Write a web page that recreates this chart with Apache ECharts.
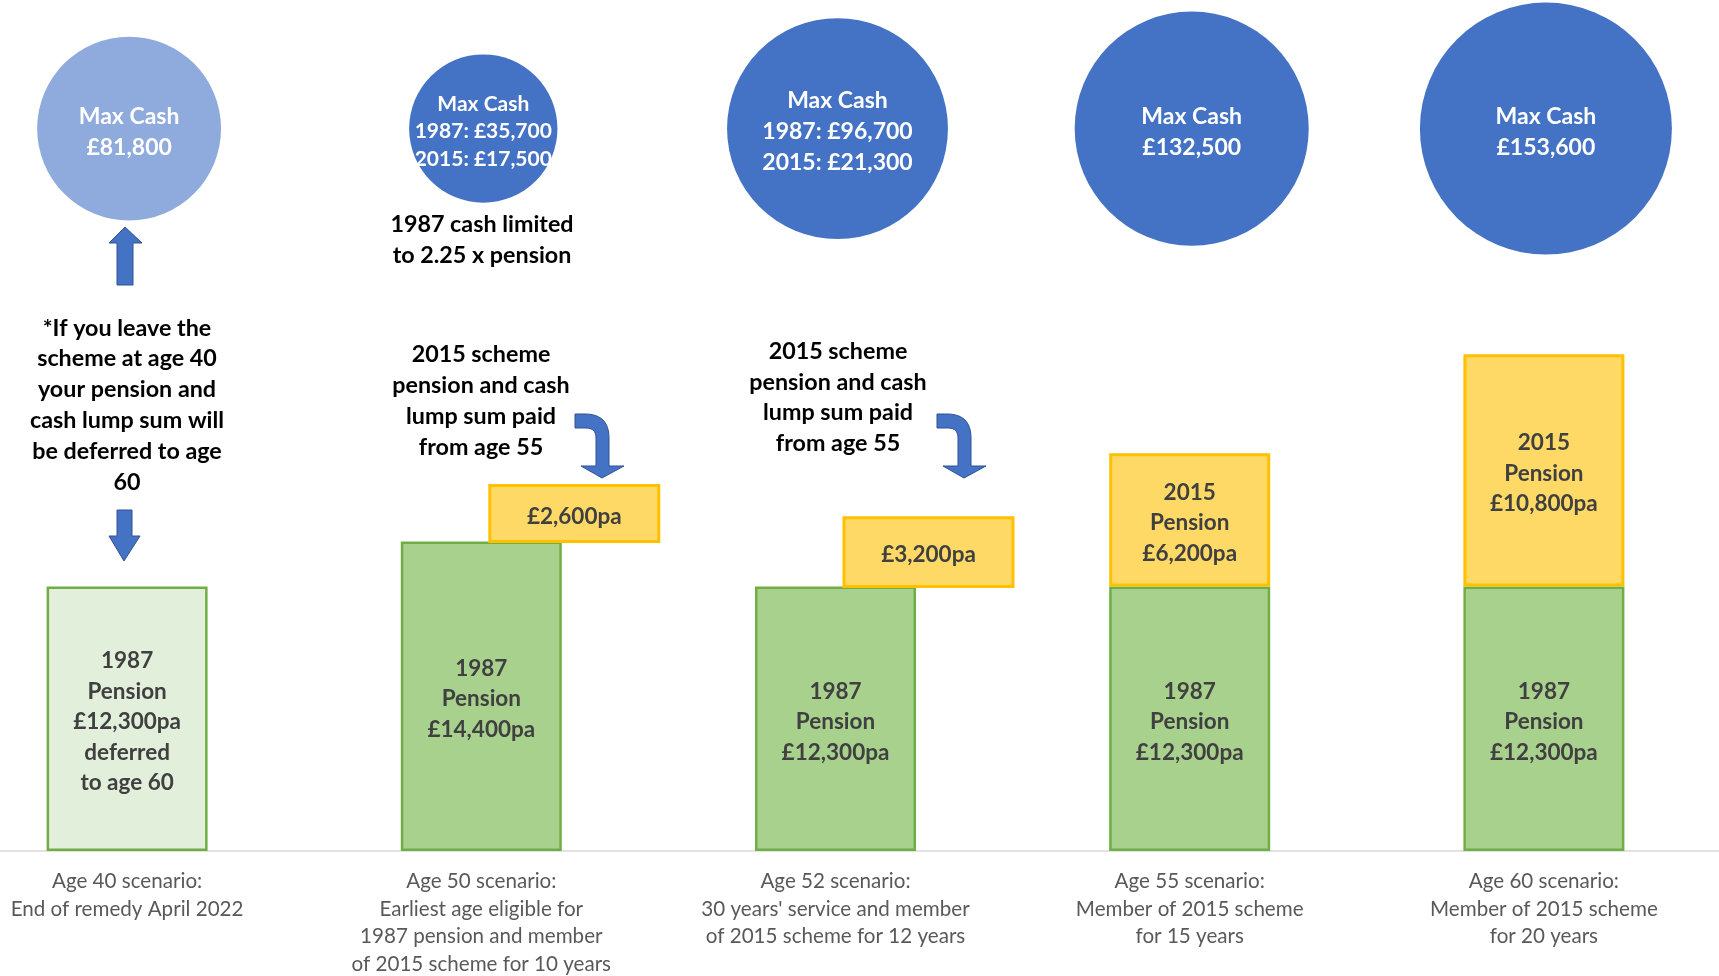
<!DOCTYPE html>
<html>
<head>
<meta charset="utf-8">
<script src="https://cdn.jsdelivr.net/npm/echarts@6/dist/echarts.min.js"></script>
<style>
  html, body { margin: 0; padding: 0; background: #fff; }
  #chart { width: 1719px; height: 976px; }
</style>
</head>
<body>
<div id="chart"></div>
<script>
// scenarios along the bottom
const scenarios = [
  'Age 40 scenario:\nEnd of remedy April 2022',
  'Age 50 scenario:\nEarliest age eligible for\n1987 pension and member\nof 2015 scheme for 10 years',
  "Age 52 scenario:\n30 years' service and member\nof 2015 scheme for 12 years",
  'Age 55 scenario:\nMember of 2015 scheme\nfor 15 years',
  'Age 60 scenario:\nMember of 2015 scheme\nfor 20 years'
];
// yearly pensions, £
const pension1987 = [12300, 14400, 12300, 12300, 12300];
const pension2015 = [null, 2600, 3200, 6200, 10800];
// 2015 part paid from age 55 (drawn beside the 1987 bar)
const paidFrom55 = [false, true, true, false, false];
// first scenario is a deferred pension
const deferred = [true, false, false, false, false];
// max cash lump sum, £ (single figure or split by scheme)
const maxCash = [81800, null, null, 132500, 153600];
const maxCash1987 = [null, 35700, 96700, null, null];
const maxCash2015 = [null, 17500, 21300, null, null];

const FONT = 'Lato';
const BLUE = '#4472C4';
const money = v => '£' + v.toLocaleString('en-GB');
const bubbleLevel = 33600;   // row the cash bubbles sit on
const bubbleScale = 0.643;   // diameter per sqrt(£), area ~ cash

const chart = echarts.init(document.getElementById('chart'));

const greenData = pension1987.map((v, i) => {
  const item = { value: v };
  if (deferred[i]) item.itemStyle = { color: '#E2EFDA' };
  return item;
});
const yellowData = pension2015.map((v, i) => (v != null && !paidFrom55[i]) ? v : '-');
const sideData = [];
pension2015.forEach((v, i) => { if (v != null && paidFrom55[i]) sideData.push([i, pension1987[i], v]); });

const bubbleData = scenarios.map((s, i) => {
  const total = maxCash[i] != null ? maxCash[i] : maxCash1987[i] + maxCash2015[i];
  const text = maxCash[i] != null
    ? 'Max Cash\n' + money(maxCash[i])
    : 'Max Cash\n1987: ' + money(maxCash1987[i]) + '\n2015: ' + money(maxCash2015[i]);
  const small = total < 60000;
  return {
    value: [i, bubbleLevel, total],
    itemStyle: { color: i === 0 ? '#8FAADC' : BLUE, opacity: 1 },
    label: { formatter: text, fontSize: small ? 21 : 23, lineHeight: small ? 27.5 : 31 }
  };
});

// bent "turn down" arrow as a polygon (quadratic corners sampled)
function quad(p0, c, p1, n) {
  const pts = [];
  for (let k = 1; k <= n; k++) {
    const t = k / n;
    pts.push([
      (1 - t) * (1 - t) * p0[0] + 2 * (1 - t) * t * c[0] + t * t * p1[0],
      (1 - t) * (1 - t) * p0[1] + 2 * (1 - t) * t * c[1] + t * t * p1[1]
    ]);
  }
  return pts;
}
function bentArrow(x0, y0) {
  let pts = [[0, 0], [10, 0]];
  pts = pts.concat(quad([10, 0], [34, 0], [34, 24], 12));
  pts = pts.concat([[34, 52], [49, 52], [27, 64], [6, 52], [21, 52], [21, 24]]);
  pts = pts.concat(quad([21, 24], [21, 14], [11, 14], 8));
  pts.push([0, 14]);
  return pts.map(p => [p[0] + x0, p[1] + y0]);
}
const arrowStyle = { fill: BLUE, stroke: '#2F528F', lineWidth: 1 };
const noteStyle = { font: 'bold 23.3px ' + FONT, fill: '#000', lineHeight: 30.8, align: 'center', verticalAlign: 'middle' };

chart.setOption({
  animation: false,
  backgroundColor: '#fff',
  grid: { left: -50, right: -2, top: 34, bottom: 125, outerBoundsMode: 'none', containLabel: false },
  xAxis: {
    type: 'category',
    data: scenarios,
    axisTick: { show: false },
    axisLine: { lineStyle: { color: '#D9D9D9', width: 1.5 } },
    axisLabel: {
      interval: 0, margin: 17, color: '#595959',
      fontFamily: FONT, fontSize: 20.6, lineHeight: 27.5
    }
  },
  yAxis: { type: 'value', min: 0, max: 38000, show: false, splitLine: { show: false } },
  series: [
    {
      name: '1987 pension',
      type: 'bar',
      stack: 'pension',
      barWidth: 161,
      data: greenData,
      itemStyle: { color: '#A9D18E', borderColor: '#70AD47', borderWidth: 2.5 },
      label: {
        show: true, position: 'inside', offset: [0, 3], color: '#404040',
        fontFamily: FONT, fontWeight: 'bold', fontSize: 22.5, lineHeight: 30.5,
        formatter: p => '1987\nPension\n' + money(p.value) + 'pa' + (deferred[p.dataIndex] ? '\ndeferred\nto age 60' : '')
      }
    },
    {
      name: '2015 pension',
      type: 'bar',
      stack: 'pension',
      barWidth: 161,
      data: yellowData,
      itemStyle: { color: '#FFD966', borderColor: '#FFC000', borderWidth: 3 },
      label: {
        show: true, position: 'inside', offset: [0, 3], color: '#404040',
        fontFamily: FONT, fontWeight: 'bold', fontSize: 22.5, lineHeight: 30.5,
        formatter: p => '2015\nPension\n' + money(p.value) + 'pa'
      }
    },
    {
      name: '2015 pension from 55',
      type: 'custom',
      data: sideData,
      encode: { x: 0, y: [1, 2] },
      z: 3,
      renderItem: function (params, api) {
        const i = api.value(0);
        const base = api.value(1);
        const v = api.value(2);
        const lo = api.coord([i, base]);
        const hi = api.coord([i, base + v]);
        const w = 169;
        return {
          type: 'rect',
          shape: { x: lo[0] + 93 - w / 2, y: hi[1], width: w, height: lo[1] - hi[1] },
          style: { fill: '#FFD966', stroke: '#FFC000', lineWidth: 3 },
          textContent: {
            style: { text: money(v) + 'pa', fill: '#404040', font: 'bold 22.5px ' + FONT }
          },
          textConfig: { position: 'inside', offset: [0, 3] }
        };
      }
    },
    {
      name: 'Max cash',
      type: 'scatter',
      data: bubbleData,
      symbolSize: v => bubbleScale * Math.sqrt(v[2]),
      symbolOffset: [2, 0],
      label: {
        show: true, position: 'inside', offset: [0, 3], color: '#fff',
        fontFamily: FONT, fontWeight: 'bold'
      }
    }
  ],
  graphic: [
    { type: 'text', x: 482, y: 240, style: Object.assign({ text: '1987 cash limited\nto 2.25 x pension' }, noteStyle) },
    { type: 'text', x: 127, y: 405, style: Object.assign({ text: '*If you leave the\nscheme at age 40\nyour pension and\ncash lump sum will\nbe deferred to age\n60' }, noteStyle) },
    { type: 'text', x: 481, y: 401, style: Object.assign({ text: '2015 scheme\npension and cash\nlump sum paid\nfrom age 55' }, noteStyle) },
    { type: 'text', x: 838, y: 397.5, style: Object.assign({ text: '2015 scheme\npension and cash\nlump sum paid\nfrom age 55' }, noteStyle) },
    { type: 'polygon', shape: { points: [[125, 227], [142, 243], [133, 243], [133, 285], [117, 285], [117, 243], [109, 243]] }, style: arrowStyle },
    { type: 'polygon', shape: { points: [[117, 510], [132, 510], [132, 536], [140, 536], [124, 561], [109, 536], [117, 536]] }, style: arrowStyle },
    { type: 'polygon', shape: { points: bentArrow(575, 414) }, style: arrowStyle },
    { type: 'polygon', shape: { points: bentArrow(937, 414) }, style: arrowStyle }
  ]
});
</script>
</body>
</html>
